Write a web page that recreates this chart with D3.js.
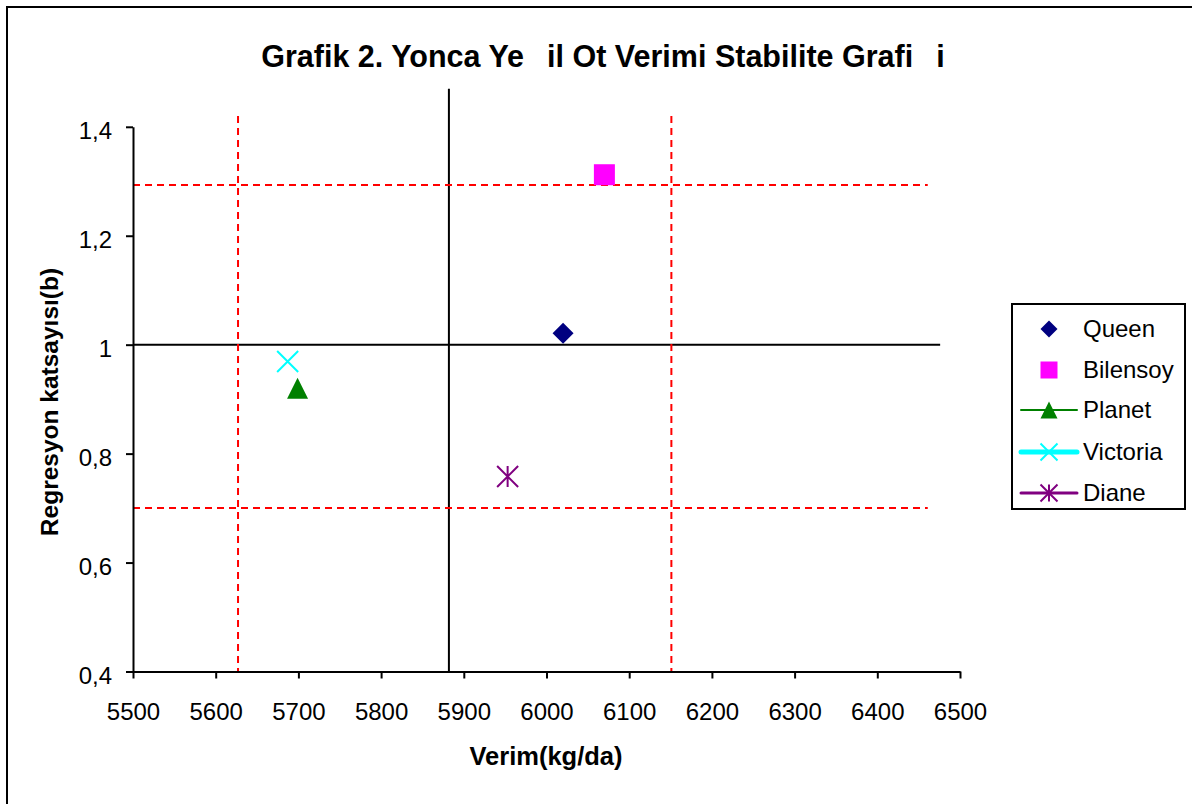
<!DOCTYPE html>
<html>
<head>
<meta charset="utf-8">
<script src="https://cdn.jsdelivr.net/npm/d3@7"></script>
<style>
  body { margin: 0; background: #fff; }
  svg text { font-family: "Liberation Sans", Arial, sans-serif; fill: #000; }
</style>
</head>
<body>
<div id="chart"></div>
<script>
// Varieties: yield (kg/da) and regression coefficient (b)
const varieties = ["Queen", "Bilensoy", "Planet", "Victoria", "Diane"];
const yields = [6020, 6070, 5699, 5687, 5953];
const coefs = [1.021, 1.312, 0.92, 0.969, 0.758];
const colors = ["#000080", "#ff00ff", "#008000", "#00ffff", "#800080"];
const shapes = ["diamond", "square", "triangle", "cross", "star"];

const xTicks = [5500, 5600, 5700, 5800, 5900, 6000, 6100, 6200, 6300, 6400, 6500];
const yTicks = [0.4, 0.6, 0.8, 1.0, 1.2, 1.4];

// Reference lines (mean yield, b = 1, and the dashed limits)
const meanYield = 5882;
const meanLineTop = 1.47;
const unitLineEnd = 6476;
const yieldLimits = [5627, 6151];
const yieldLimitTop = 1.42;
const coefLimits = [0.7, 1.293];
const coefLimitEnd = 6461;

const W = 1192, H = 804;
const margin = { top: 126.8, right: 232, bottom: 132.5, left: 133 };

const svg = d3.select("#chart").append("svg")
  .attr("width", W).attr("height", H);

// Outer chart border
svg.append("rect")
  .attr("x", 7).attr("y", 7).attr("width", 1200).attr("height", 820)
  .attr("fill", "none").attr("stroke", "#000").attr("stroke-width", 2);

const x = d3.scaleLinear().domain([5500, 6500]).range([margin.left, W - margin.right]);
const y = d3.scaleLinear().domain([0.4, 1.4]).range([H - margin.bottom, margin.top]);

// Title (missing glyphs shown as blanks, as in the original)
svg.append("text")
  .attr("x", 603).attr("y", 67)
  .attr("text-anchor", "middle")
  .style("font-size", "30.5px").style("font-weight", "bold")
  .style("white-space", "pre")
  .text("Grafik 2. Yonca Ye  \u2009il Ot Verimi Stabilite Grafi  \u2009i");

const g = svg.append("g");

// Black reference lines
g.append("line")
  .attr("x1", x(meanYield)).attr("x2", x(meanYield))
  .attr("y1", y(meanLineTop)).attr("y2", y(0.4))
  .attr("stroke", "#000").attr("stroke-width", 2);
g.append("line")
  .attr("x1", x(5500)).attr("x2", x(unitLineEnd))
  .attr("y1", y(1)).attr("y2", y(1))
  .attr("stroke", "#000").attr("stroke-width", 2);

// Red dashed limits
g.selectAll(".vlim").data(yieldLimits).join("line")
  .attr("x1", (d) => x(d)).attr("x2", (d) => x(d))
  .attr("y1", y(yieldLimitTop)).attr("y2", y(0.4))
  .attr("stroke", "#ff0000").attr("stroke-width", 2).attr("stroke-dasharray", "7,5");
g.selectAll(".hlim").data(coefLimits).join("line")
  .attr("x1", x(5500)).attr("x2", x(coefLimitEnd))
  .attr("y1", (d) => y(d)).attr("y2", (d) => y(d))
  .attr("stroke", "#ff0000").attr("stroke-width", 2).attr("stroke-dasharray", "7,5");

// Axes
const locale = d3.formatLocale({ decimal: ",", thousands: ".", grouping: [3], currency: ["", ""] });
const xAxis = d3.axisBottom(x).tickValues(xTicks).tickFormat(d3.format("d"))
  .tickSize(7).tickSizeOuter(0).tickPadding(24);
const yAxis = d3.axisLeft(y).tickValues(yTicks).tickFormat(locale.format("~g"))
  .tickSize(7).tickSizeOuter(0).tickPadding(14);

const gx = svg.append("g").attr("transform", `translate(0,${y(0.4)})`).call(xAxis);
const gy = svg.append("g").attr("transform", `translate(${x(5500)},0)`).call(yAxis);
[gx, gy].forEach((a) => {
  a.selectAll("path, line").attr("stroke", "#000").attr("stroke-width", 2);
  a.selectAll("text").attr("fill", "#000")
    .style("font-size", "24px").style("font-family", "Liberation Sans, Arial, sans-serif");
});
gy.selectAll("text").attr("dy", "0.5em");

// Axis titles
svg.append("text")
  .attr("x", 546).attr("y", 765)
  .attr("text-anchor", "middle")
  .style("font-size", "25.5px").style("font-weight", "bold")
  .text("Verim(kg/da)");
svg.append("text")
  .attr("transform", "translate(58,402) rotate(-90)")
  .attr("text-anchor", "middle")
  .style("font-size", "24.5px").style("font-weight", "bold")
  .text("Regresyon katsayısı(b)");

// Marker drawing
function marker(sel, shape, color, s) {
  const h = s / 2;
  if (shape === "diamond") {
    sel.append("path").attr("d", `M0,${-h}L${h},0L0,${h}L${-h},0Z`).attr("fill", color);
  } else if (shape === "square") {
    sel.append("rect").attr("x", -h).attr("y", -h).attr("width", s).attr("height", s).attr("fill", color);
  } else if (shape === "triangle") {
    sel.append("path").attr("d", `M0,${-h}L${h},${h}L${-h},${h}Z`).attr("fill", color);
  } else if (shape === "cross") {
    sel.append("path").attr("d", `M${-h},${-h}L${h},${h}M${h},${-h}L${-h},${h}`)
      .attr("stroke", color).attr("stroke-width", 2).attr("fill", "none");
  } else if (shape === "star") {
    sel.append("path")
      .attr("d", `M${-h},${-h}L${h},${h}M${h},${-h}L${-h},${h}M0,${-h}L0,${h}`)
      .attr("stroke", color).attr("stroke-width", 2).attr("fill", "none");
  }
}

const pts = varieties.map((name, i) => ({ name, yld: yields[i], b: coefs[i], color: colors[i], shape: shapes[i] }));

svg.selectAll(".pt").data(pts).join("g")
  .attr("class", "pt")
  .attr("transform", (d) => `translate(${x(d.yld)},${y(d.b)})`)
  .each(function (d) { marker(d3.select(this), d.shape, d.color, 21); });

// Legend
const legend = svg.append("g").attr("transform", "translate(1012,304)");
legend.append("rect")
  .attr("width", 173).attr("height", 205)
  .attr("fill", "#fff").attr("stroke", "#000").attr("stroke-width", 2);

const lineWidths = [0, 0, 2, 5, 3];
const rowY = [25, 66, 106, 148, 189];
const items = legend.selectAll(".item").data(pts).join("g")
  .attr("class", "item")
  .attr("transform", (d, i) => `translate(0,${rowY[i]})`);
items.filter((d, i) => lineWidths[i] > 0).append("line")
  .attr("x1", 9).attr("x2", 65).attr("y1", 0).attr("y2", 0)
  .attr("stroke", (d) => d.color)
  .attr("stroke-width", (d) => lineWidths[pts.indexOf(d)])
  .attr("stroke-linecap", "round");
items.append("g").attr("transform", "translate(37,0)")
  .each(function (d) { marker(d3.select(this), d.shape, d.color, 17); });
items.append("text")
  .attr("x", 71).attr("y", 8)
  .style("font-size", "24px")
  .text((d) => d.name);
</script>
</body>
</html>
